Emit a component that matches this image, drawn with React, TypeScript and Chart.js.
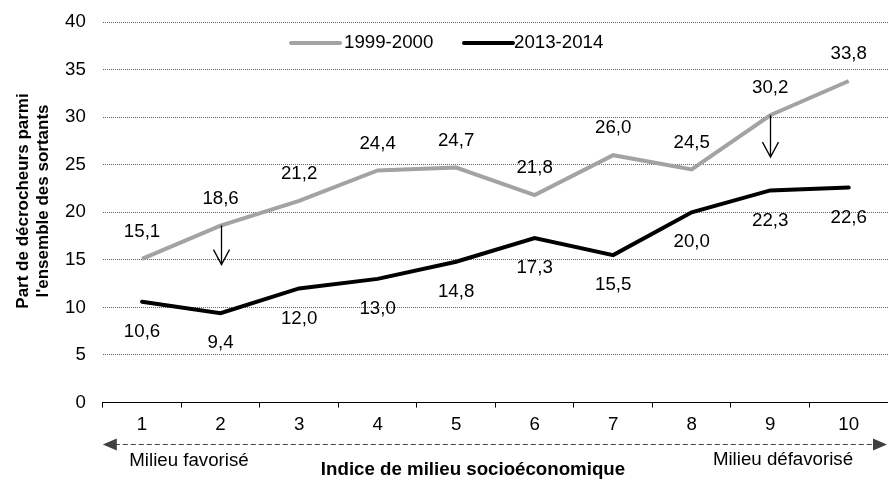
import React, { useEffect, useRef } from "react";
import { Chart, registerables } from "chart.js";

Chart.register(...registerables);

const categories = ["1", "2", "3", "4", "5", "6", "7", "8", "9", "10"];
const series1999 = [15.1, 18.6, 21.2, 24.4, 24.7, 21.8, 26.0, 24.5, 30.2, 33.8];
const series2013 = [10.6, 9.4, 12.0, 13.0, 14.8, 17.3, 15.5, 20.0, 22.3, 22.6];
const arrowIndex = [1, 8];
const arrowEnd = [14.5, 25.8];
const yTitle = ["Part de décrocheurs parmi", "l'ensemble des sortants"];
const xTitle = "Indice de milieu socioéconomique";
const leftNote = "Milieu favorisé";
const rightNote = "Milieu défavorisé";
const legendLabels = ["1999-2000", "2013-2014"];

const FONT = "'Liberation Sans', Arial, sans-serif";
const FS = 18.7;
const GREY = "#a3a3a3";
const BLACK = "#000000";

const fmt = (v: number) => v.toFixed(1).replace(".", ",");

const overlay = {
  id: "overlay",
  afterDatasetsDraw(chart: any) {
    const ctx = chart.ctx;
    const xs = chart.scales.x;
    const ys = chart.scales.y;
    const area = chart.chartArea;
    ctx.save();
    ctx.font = `${FS}px ${FONT}`;
    ctx.fillStyle = "#000";
    ctx.textAlign = "center";
    ctx.textBaseline = "middle";
    series1999.forEach((v, i) => {
      ctx.fillText(fmt(v), xs.getPixelForValue(i), ys.getPixelForValue(v) - 27);
    });
    series2013.forEach((v, i) => {
      ctx.fillText(fmt(v), xs.getPixelForValue(i), ys.getPixelForValue(v) + 30);
    });
    ctx.strokeStyle = "#000";
    ctx.lineWidth = 1.3;
    arrowIndex.forEach((idx, k) => {
      const x = Math.round(xs.getPixelForValue(idx)) + 0.5;
      const y0 = ys.getPixelForValue(series1999[idx]);
      const y1 = ys.getPixelForValue(arrowEnd[k]);
      ctx.beginPath();
      ctx.moveTo(x, y0);
      ctx.lineTo(x, y1);
      ctx.moveTo(x - 8, y1 - 15);
      ctx.lineTo(x, y1);
      ctx.lineTo(x + 8, y1 - 15);
      ctx.stroke();
    });
    const ly = 43;
    ctx.lineWidth = 4;
    ctx.lineCap = "round";
    ctx.strokeStyle = GREY;
    ctx.beginPath();
    ctx.moveTo(291, ly);
    ctx.lineTo(340, ly);
    ctx.stroke();
    ctx.strokeStyle = BLACK;
    ctx.beginPath();
    ctx.moveTo(464, ly);
    ctx.lineTo(513, ly);
    ctx.stroke();
    ctx.lineCap = "butt";
    ctx.textAlign = "left";
    ctx.fillText(legendLabels[0], 344, ly);
    ctx.fillText(legendLabels[1], 514, ly);

    const ay = 444.5;
    const aL = area.left;
    const aR = 887;
    ctx.strokeStyle = "#404040";
    ctx.fillStyle = "#404040";
    ctx.lineWidth = 1;
    ctx.setLineDash([5, 3]);
    ctx.beginPath();
    ctx.moveTo(aL + 12, ay);
    ctx.lineTo(aR - 12, ay);
    ctx.stroke();
    ctx.setLineDash([]);
    ctx.beginPath();
    ctx.moveTo(aL, ay);
    ctx.lineTo(aL + 14, ay - 6);
    ctx.lineTo(aL + 14, ay + 6);
    ctx.closePath();
    ctx.fill();
    ctx.beginPath();
    ctx.moveTo(aR, ay);
    ctx.lineTo(aR - 14, ay - 6);
    ctx.lineTo(aR - 14, ay + 6);
    ctx.closePath();
    ctx.fill();

    ctx.fillStyle = "#000";
    ctx.textAlign = "center";
    ctx.font = `${FS}px ${FONT}`;
    ctx.fillText(leftNote, 189, 461);
    ctx.fillText(rightNote, 783, 460);
    ctx.font = `bold ${FS}px ${FONT}`;
    ctx.fillText(xTitle, 473, 470);

    ctx.save();
    ctx.translate(0, 201);
    ctx.rotate(-Math.PI / 2);
    ctx.font = `bold 17px ${FONT}`;
    ctx.fillText(yTitle[0], 0, 23);
    ctx.fillText(yTitle[1], 0, 43);
    ctx.restore();

    ctx.restore();
  },
};

export default function App() {
  const ref = useRef<HTMLCanvasElement | null>(null);
  useEffect(() => {
    if (!ref.current) return;
    Chart.defaults.font.family = FONT;
    const chart = new Chart(ref.current, {
      type: "line",
      data: {
        labels: categories,
        datasets: [
          {
            label: legendLabels[0],
            data: series1999,
            borderColor: GREY,
            borderWidth: 4,
            pointRadius: 0,
            tension: 0,
            borderJoinStyle: "miter",
          },
          {
            label: legendLabels[1],
            data: series2013,
            borderColor: BLACK,
            borderWidth: 4,
            pointRadius: 0,
            tension: 0,
            borderJoinStyle: "miter",
            borderCapStyle: "round",
          },
        ],
      },
      options: {
        responsive: false,
        animation: false,
        devicePixelRatio: 1,
        layout: { padding: { left: 48, right: 0, top: 22, bottom: 37 } },
        plugins: { legend: { display: false }, tooltip: { enabled: false } },
        scales: {
          x: {
            offset: true,
            grid: {
              offset: true,
              drawOnChartArea: false,
              drawTicks: true,
              tickLength: 5,
              color: "#000",
            },
            border: { display: true, color: "#000", width: 1 },
            ticks: { color: "#000", font: { size: FS, family: FONT }, padding: 6, maxRotation: 0 },
          },
          y: {
            min: 0,
            max: 40,
            afterFit: (scale: any) => {
              scale.paddingTop = 11;
              scale.paddingBottom = 11;
            },
            ticks: { stepSize: 5, color: "#000", font: { size: FS, family: FONT }, padding: 17 },
            grid: { color: "#606060", lineWidth: 1, drawTicks: false },
            border: { display: false, dash: [1, 1] },
          },
        },
      },
      plugins: [overlay],
    });
    return () => chart.destroy();
  }, []);
  return (
    <div style={{ position: "absolute", left: 0, top: 0, width: 888, height: 479, background: "#fff" }}>
      <canvas ref={ref} width={888} height={479} style={{ width: 888, height: 479 }} />
    </div>
  );
}
